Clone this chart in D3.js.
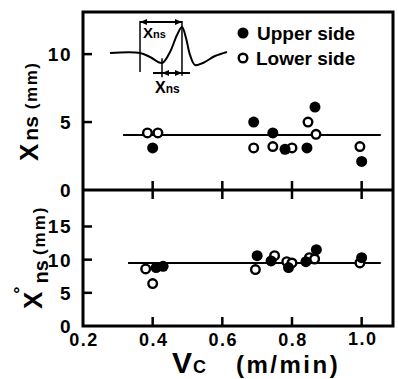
<!DOCTYPE html>
<html>
<head>
<meta charset="utf-8">
<script src="https://cdn.jsdelivr.net/npm/d3@7"></script>
<style>
  html, body { margin: 0; padding: 0; background: #fff; }
  svg { display: block; }
  text { font-family: "Liberation Sans", Arial, sans-serif; fill: #000; }
</style>
</head>
<body>
<div id="chart"></div>
<script>
// upper panel: Xns (mm)
const xnsUpperV = [0.40, 0.69, 0.745, 0.78, 0.843, 0.866, 1.0];
const xnsUpperY = [3.1, 5.0, 4.2, 3.0, 3.1, 6.1, 2.1];
const xnsLowerV = [0.385, 0.415, 0.69, 0.745, 0.80, 0.846, 0.869, 0.995];
const xnsLowerY = [4.2, 4.2, 3.1, 3.2, 3.1, 5.0, 4.1, 3.2];
const xnsMean = 4.05;

// lower panel: X°ns (mm)
const x0UpperV = [0.41, 0.43, 0.70, 0.74, 0.79, 0.84, 0.87, 1.0];
const x0UpperY = [8.8, 9.0, 10.6, 9.8, 8.8, 9.7, 11.5, 10.3];
const x0LowerV = [0.38, 0.40, 0.695, 0.75, 0.785, 0.80, 0.85, 0.865, 0.995];
const x0LowerY = [8.6, 6.4, 8.5, 10.6, 9.7, 9.5, 10.3, 10.1, 9.5];
const x0Mean = 9.5;

const meanSpan = [0.315, 1.055];
const xTicks = [0.2, 0.4, 0.6, 0.8, 1.0];
const topTicks = [0, 5, 10];
const botTicks = [0, 5, 10, 15];

// inset sketch of the wave (top panel units)
const waveV = [0.2775, 0.3637, 0.3924, 0.4268, 0.4498, 0.4699, 0.4842, 0.4957, 0.5072, 0.5216, 0.5445, 0.579, 0.6134];
const waveY = [10.08, 10.08, 9.79, 9.35, 10.16, 11.41, 12.0, 11.19, 9.94, 9.2, 9.35, 9.86, 10.16];

const W = 398, H = 379;
const padL = 83, padR = 393, padT = 12, midY = 190, padB = 326;

const svg = d3.select("#chart").append("svg")
  .attr("width", W).attr("height", H);

const x = d3.scaleLinear().domain([0.2, 1.09]).range([padL, padR]);
const yTop = d3.scaleLinear().domain([0, 13.1]).range([midY, padT]);
const yBot = d3.scaleLinear().domain([0, 20.5]).range([padB, midY]);

// frame
svg.append("rect")
  .attr("x", padL).attr("y", padT)
  .attr("width", padR - padL).attr("height", padB - padT)
  .attr("fill", "none").attr("stroke", "#000").attr("stroke-width", 3);
svg.append("line")
  .attr("x1", padL).attr("x2", padR).attr("y1", midY).attr("y2", midY)
  .attr("stroke", "#000").attr("stroke-width", 3);

// ticks, inward
const tickLen = 9;
const inner = xTicks.slice(1);
svg.append("g").selectAll("line").data(inner).enter().append("line")
  .attr("x1", d => x(d)).attr("x2", d => x(d))
  .attr("y1", midY).attr("y2", midY - tickLen)
  .attr("stroke", "#000").attr("stroke-width", 2.5);
svg.append("g").selectAll("line").data(inner).enter().append("line")
  .attr("x1", d => x(d)).attr("x2", d => x(d))
  .attr("y1", midY).attr("y2", midY + tickLen)
  .attr("stroke", "#000").attr("stroke-width", 2.5);
svg.append("g").selectAll("line").data(inner).enter().append("line")
  .attr("x1", d => x(d)).attr("x2", d => x(d))
  .attr("y1", padB).attr("y2", padB - tickLen)
  .attr("stroke", "#000").attr("stroke-width", 2.5);
svg.append("g").selectAll("line").data(topTicks.slice(1)).enter().append("line")
  .attr("x1", padL).attr("x2", padL + tickLen)
  .attr("y1", d => yTop(d)).attr("y2", d => yTop(d))
  .attr("stroke", "#000").attr("stroke-width", 2.5);
svg.append("g").selectAll("line").data(botTicks.slice(1)).enter().append("line")
  .attr("x1", padL).attr("x2", padL + tickLen)
  .attr("y1", d => yBot(d)).attr("y2", d => yBot(d))
  .attr("stroke", "#000").attr("stroke-width", 2.5);

// tick labels
const tickFont = 19;
svg.append("g").selectAll("text").data(topTicks).enter().append("text")
  .attr("x", 72).attr("y", d => yTop(d) + 7)
  .attr("text-anchor", "end").attr("font-size", tickFont).attr("font-weight", "bold")
  .attr("letter-spacing", 1.5)
  .text(d => d);
svg.append("g").selectAll("text").data(botTicks).enter().append("text")
  .attr("x", 72).attr("y", d => yBot(d) + 7)
  .attr("text-anchor", "end").attr("font-size", tickFont).attr("font-weight", "bold")
  .attr("letter-spacing", 1.5)
  .text(d => d);
svg.append("g").selectAll("text").data(xTicks).enter().append("text")
  .attr("x", d => x(d) + 1).attr("y", d => d === 1.0 ? 345 : 346)
  .attr("text-anchor", "middle").attr("font-size", 18).attr("font-weight", "bold")
  .attr("letter-spacing", 1.5)
  .text(d => d.toFixed(1));

// axis titles
const xt = svg.append("text").attr("x", 172).attr("y", 373).attr("font-weight", "bold");
xt.append("tspan").attr("font-size", 30).text("V");
xt.append("tspan").attr("font-size", 18).attr("dx", 1).text("C");
xt.append("tspan").attr("font-size", 24).attr("x", 236).attr("letter-spacing", 2.5).text("(m/min)");

const yt1 = svg.append("text").attr("transform", "translate(38,161) rotate(-90)").attr("font-weight", "bold");
yt1.append("tspan").attr("font-size", 26).text("X");
yt1.append("tspan").attr("font-size", 21).attr("dx", 3).text("ns");
yt1.append("tspan").attr("font-size", 17).attr("dx", 7).attr("dy", -1)
  .attr("letter-spacing", 1.5).text("(mm)");

const yt2 = svg.append("text").attr("transform", "translate(42,309) rotate(-90)").attr("font-weight", "bold");
yt2.append("tspan").attr("font-size", 26).text("X");
yt2.append("tspan").attr("font-size", 18).attr("dx", -2).attr("dy", -16).text("°");
yt2.append("tspan").attr("font-size", 20).attr("dx", 3).attr("dy", 22).text("ns");
yt2.append("tspan").attr("font-size", 17).attr("dx", 5).attr("dy", -3)
  .attr("letter-spacing", 2).text("(mm)");

// mean lines
svg.append("line")
  .attr("x1", x(meanSpan[0])).attr("x2", x(meanSpan[1]))
  .attr("y1", yTop(xnsMean)).attr("y2", yTop(xnsMean))
  .attr("stroke", "#000").attr("stroke-width", 2);
svg.append("line")
  .attr("x1", x(meanSpan[0]) + 5).attr("x2", x(meanSpan[1]))
  .attr("y1", yBot(x0Mean)).attr("y2", yBot(x0Mean))
  .attr("stroke", "#000").attr("stroke-width", 2);

// points
function drawPoints(vs, ys, y, filled) {
  svg.append("g").selectAll("circle").data(vs).enter().append("circle")
    .attr("cx", d => x(d)).attr("cy", (d, i) => y(ys[i]))
    .attr("r", filled ? 5.5 : 4.3)
    .attr("fill", filled ? "#000" : "#fff")
    .attr("stroke", "#000").attr("stroke-width", filled ? 0 : 2.4);
}
drawPoints(xnsLowerV, xnsLowerY, yTop, false);
drawPoints(xnsUpperV, xnsUpperY, yTop, true);
drawPoints(x0LowerV, x0LowerY, yBot, false);
drawPoints(x0UpperV, x0UpperY, yBot, true);

// legend
svg.append("circle").attr("cx", 243).attr("cy", 33).attr("r", 5.5).attr("fill", "#000");
svg.append("circle").attr("cx", 243).attr("cy", 58).attr("r", 4.3)
  .attr("fill", "#fff").attr("stroke", "#000").attr("stroke-width", 2.4);
svg.append("text").attr("x", 257).attr("y", 40).attr("font-size", 19).attr("font-weight", "bold")
  .text("Upper side");
svg.append("text").attr("x", 256).attr("y", 65).attr("font-size", 19).attr("font-weight", "bold")
  .text("Lower side");

// inset sketch
const inset = svg.append("g");
inset.append("path")
  .datum(waveV.map((v, i) => [v, waveY[i]]))
  .attr("d", d3.line().x(d => x(d[0])).y(d => yTop(d[1])).curve(d3.curveCatmullRom))
  .attr("fill", "none").attr("stroke", "#000").attr("stroke-width", 2);
const vA = waveV[1], vMin = waveV[3], vPk = waveV[6];
function seg(x1, y1, x2, y2, w) {
  inset.append("line").attr("x1", x1).attr("y1", y1).attr("x2", x2).attr("y2", y2)
    .attr("stroke", "#000").attr("stroke-width", w || 1.5);
}
function head(px, py, dir) {
  inset.append("path")
    .attr("d", `M${px},${py} L${px - dir * 7},${py - 3} L${px - dir * 7},${py + 3} Z`)
    .attr("fill", "#000");
}
const yArrTop = yTop(12.36), yArrBot = yTop(8.61);
seg(x(vA), yArrTop - 1, x(vA), yTop(8.68));
seg(x(vPk), yArrTop - 1, x(vPk), yTop(8.4));
seg(x(vMin), yTop(9.7), x(vMin), yTop(8.3));
seg(x(vA), yArrTop, x(vPk), yArrTop, 2);
head(x(vA), yArrTop, -1);
head(x(vPk), yArrTop, 1);
seg(x(vMin) - 9, yArrBot, x(vPk) + 8, yArrBot, 2);
head(x(vMin), yArrBot, -1);
head(x(vPk), yArrBot, 1);
const l1 = inset.append("text").attr("x", 143).attr("y", 38).attr("font-weight", "bold");
l1.append("tspan").attr("font-size", 15).text("X");
l1.append("tspan").attr("font-size", 11).text("ns");
const l2 = inset.append("text").attr("x", 155).attr("y", 93).attr("font-weight", "bold");
l2.append("tspan").attr("font-size", 16).text("X");
l2.append("tspan").attr("font-size", 12).text("ns");
</script>
</body>
</html>
